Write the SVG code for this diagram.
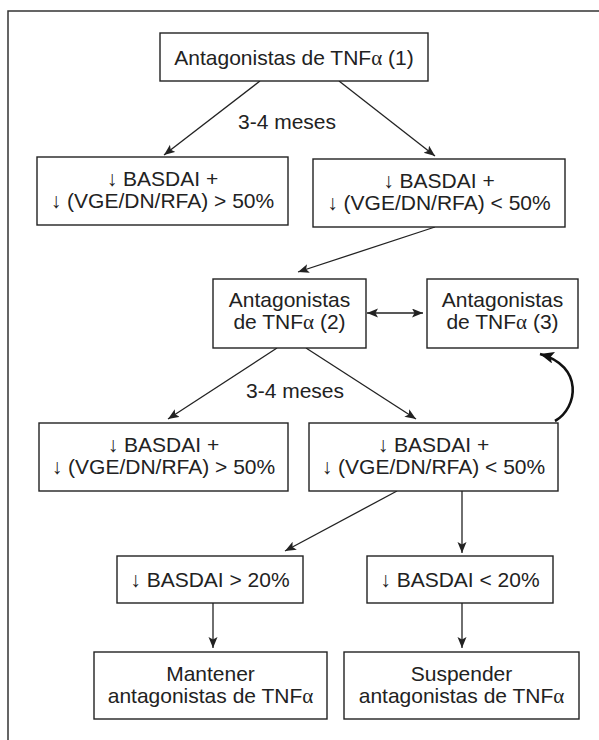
<svg xmlns="http://www.w3.org/2000/svg" width="599" height="740" viewBox="0 0 599 740">
<style>
  .box { fill: #ffffff; stroke: #222222; stroke-width: 1.4; }
  .t { font-family: "Liberation Sans", Arial, sans-serif; font-size: 21px; fill: #222222; text-anchor: middle; }
  .g { font-family: "Liberation Serif", "Times New Roman", serif; }
  .frame { fill: none; stroke: #333333; stroke-width: 1.5; }
  .conn { fill: none; stroke: #222222; stroke-width: 1.3; }
  .curve { fill: none; stroke: #111111; stroke-width: 2.6; }
</style>
<defs>
  <marker id="ah" markerUnits="userSpaceOnUse" markerWidth="12" markerHeight="10" refX="11" refY="4.5" orient="auto-start-reverse">
    <path d="M0,0 L11,4.5 L0,9 L2.5,4.5 z" fill="#222222"/>
  </marker>
  <marker id="ahb" markerUnits="userSpaceOnUse" markerWidth="16" markerHeight="14" refX="14" refY="6" orient="auto">
    <path d="M0,0 L14,6 L0,12 L3,6 z" fill="#111111"/>
  </marker>
</defs>
<rect x="0" y="0" width="599" height="740" fill="#ffffff"/>
<path class="frame" d="M8,740 L8,11 L599,11"/>

<g id="connectors">
  <path class="conn" d="M260,81 L164,155" marker-end="url(#ah)"/>
  <path class="conn" d="M339,81 L435,156" marker-end="url(#ah)"/>
  <path class="conn" d="M435,227 L298,272" marker-end="url(#ah)"/>
  <path class="conn" d="M367,313 L423,313" marker-start="url(#ah)" marker-end="url(#ah)"/>
  <path class="conn" d="M277,348 L168,419" marker-end="url(#ah)"/>
  <path class="conn" d="M306,348 L416,419" marker-end="url(#ah)"/>
  <path class="curve" d="M555,421 C578,408 584,366 540,354" marker-end="url(#ahb)"/>
  <path class="conn" d="M397,491 L285,551" marker-end="url(#ah)"/>
  <path class="conn" d="M462,491 L462,553" marker-end="url(#ah)"/>
  <path class="conn" d="M213,603 L213,648" marker-end="url(#ah)"/>
  <path class="conn" d="M462,603 L462,648" marker-end="url(#ah)"/>
</g>

<g id="lbl1"><text class="t" x="287" y="129">3-4 meses</text></g>
<g id="lbl2"><text class="t" x="295" y="398">3-4 meses</text></g>

<g id="n1">
  <rect class="box" x="160" y="33" width="268" height="48"/>
  <text class="t" x="294" y="65">Antagonistas de TNF<tspan class="g">α</tspan> (1)</text>
</g>
<g id="n2">
  <rect class="box" x="37" y="157" width="251" height="68"/>
  <text class="t" x="162.5" y="186">↓ BASDAI +</text>
  <text class="t" x="162.5" y="208">↓ (VGE/DN/RFA) &gt; 50%</text>
</g>
<g id="n3">
  <rect class="box" x="313" y="159" width="252" height="68"/>
  <text class="t" x="439" y="188">↓ BASDAI +</text>
  <text class="t" x="439" y="210">↓ (VGE/DN/RFA) &lt; 50%</text>
</g>
<g id="n4">
  <rect class="box" x="213" y="279" width="153" height="69"/>
  <text class="t" x="289.5" y="307">Antagonistas</text>
  <text class="t" x="289.5" y="329">de TNF<tspan class="g">α</tspan> (2)</text>
</g>
<g id="n5">
  <rect class="box" x="427" y="279" width="151" height="69"/>
  <text class="t" x="502.5" y="307">Antagonistas</text>
  <text class="t" x="502.5" y="329">de TNF<tspan class="g">α</tspan> (3)</text>
</g>
<g id="n6">
  <rect class="box" x="39" y="423" width="249" height="68"/>
  <text class="t" x="163.5" y="452">↓ BASDAI +</text>
  <text class="t" x="163.5" y="474">↓ (VGE/DN/RFA) &gt; 50%</text>
</g>
<g id="n7">
  <rect class="box" x="309" y="423" width="249" height="68"/>
  <text class="t" x="433.5" y="452">↓ BASDAI +</text>
  <text class="t" x="433.5" y="474">↓ (VGE/DN/RFA) &lt; 50%</text>
</g>
<g id="n8">
  <rect class="box" x="117" y="556" width="186" height="47"/>
  <text class="t" x="210" y="587">↓ BASDAI &gt; 20%</text>
</g>
<g id="n9">
  <rect class="box" x="367" y="556" width="186" height="47"/>
  <text class="t" x="460" y="587">↓ BASDAI &lt; 20%</text>
</g>
<g id="n10">
  <rect class="box" x="94" y="652" width="233" height="67"/>
  <text class="t" x="210.5" y="681">Mantener</text>
  <text class="t" x="210.5" y="703">antagonistas de TNF<tspan class="g">α</tspan></text>
</g>
<g id="n11">
  <rect class="box" x="344" y="652" width="235" height="67"/>
  <text class="t" x="461.5" y="681">Suspender</text>
  <text class="t" x="461.5" y="703">antagonistas de TNF<tspan class="g">α</tspan></text>
</g>
</svg>
